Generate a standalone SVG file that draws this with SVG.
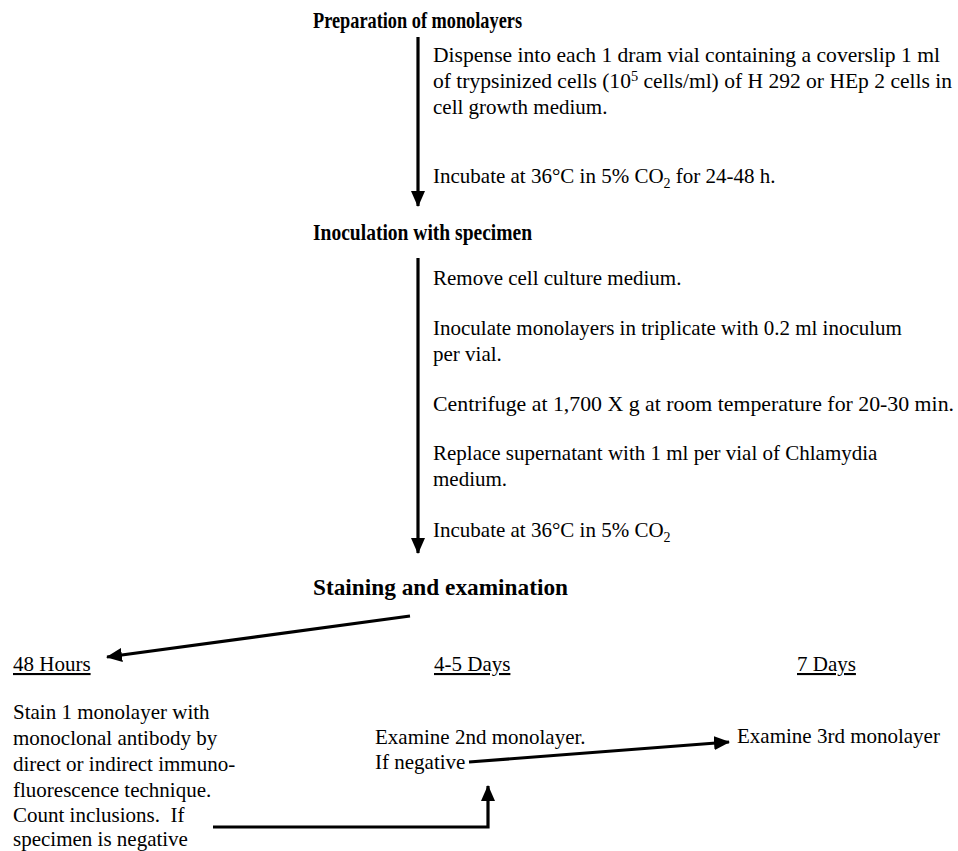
<svg xmlns="http://www.w3.org/2000/svg" width="958" height="851" viewBox="0 0 958 851">
<defs>
<marker id="ah" viewBox="0 0 16 14" refX="15" refY="7" markerWidth="16" markerHeight="14" markerUnits="userSpaceOnUse" orient="auto">
<path d="M0,0 L16,7 L0,14 Z" fill="#000"/>
</marker>
<style>
text{font-family:"Liberation Serif","Times New Roman",serif;fill:#000;font-size:21px}
.h{font-weight:bold;font-size:24px}
.u{text-decoration:underline}
.sub{font-size:14px}
.c{fill:none;stroke:#000;stroke-width:3.2}
</style>
</defs>
<rect width="958" height="851" fill="#fff"/>
<g id="connectors">
<line class="c" x1="418" y1="37" x2="418" y2="206" marker-end="url(#ah)"/>
<line class="c" x1="418" y1="258" x2="418" y2="553" marker-end="url(#ah)"/>
<line class="c" x1="410" y1="616" x2="107" y2="657" marker-end="url(#ah)"/>
<line class="c" x1="469" y1="762" x2="729" y2="742" marker-end="url(#ah)"/>
<polyline class="c" points="213,827 488,827 488,786" marker-end="url(#ah)"/>
</g>
<g id="prep">
<text class="h" x="313" y="28" textLength="209" lengthAdjust="spacingAndGlyphs">Preparation of monolayers</text>
</g>
<g id="prep-steps">
<text x="433" y="62" textLength="507" lengthAdjust="spacingAndGlyphs">Dispense into each 1 dram vial containing a coverslip 1 ml</text>
<text x="433" y="88" textLength="519" lengthAdjust="spacingAndGlyphs">of trypsinized cells (10<tspan class="sub" dy="-7">5</tspan><tspan dy="7"> cells/ml) of H 292 or HEp 2 cells in</tspan></text>
<text x="433" y="114">cell growth medium.</text>
<text x="433" y="183">Incubate at 36°C in 5% CO<tspan class="sub" dy="5">2</tspan><tspan dy="-5"> for 24-48 h.</tspan></text>
</g>
<g id="inoc">
<text class="h" x="313" y="240" textLength="219" lengthAdjust="spacingAndGlyphs">Inoculation with specimen</text>
</g>
<g id="inoc-steps">
<text x="433" y="285">Remove cell culture medium.</text>
<text x="433" y="335">Inoculate monolayers in triplicate with 0.2 ml inoculum</text>
<text x="433" y="361">per vial.</text>
<text x="433" y="411" textLength="521" lengthAdjust="spacingAndGlyphs">Centrifuge at 1,700 X g at room temperature for 20-30 min.</text>
<text x="433" y="460">Replace supernatant with 1 ml per vial of Chlamydia</text>
<text x="433" y="486">medium.</text>
<text x="433" y="537">Incubate at 36°C in 5% CO<tspan class="sub" dy="5">2</tspan></text>
</g>
<g id="stain">
<text class="h" x="313" y="595" textLength="255" lengthAdjust="spacingAndGlyphs">Staining and examination</text>
</g>
<g id="h48">
<text class="u" x="13" y="671">48 Hours</text>
<text x="13" y="719">Stain 1 monolayer with</text>
<text x="13" y="745">monoclonal antibody by</text>
<text x="13" y="771">direct or indirect immuno-</text>
<text x="13" y="797">fluorescence technique.</text>
<text x="13" y="822">Count inclusions.&#160; If</text>
<text x="13" y="846">specimen is negative</text>
</g>
<g id="d45">
<text class="u" x="434" y="671">4-5 Days</text>
<text x="375" y="744">Examine 2nd monolayer.</text>
<text x="375" y="769">If negative</text>
</g>
<g id="d7">
<text class="u" x="797" y="671">7 Days</text>
<text x="737" y="743">Examine 3rd monolayer</text>
</g>
</svg>
